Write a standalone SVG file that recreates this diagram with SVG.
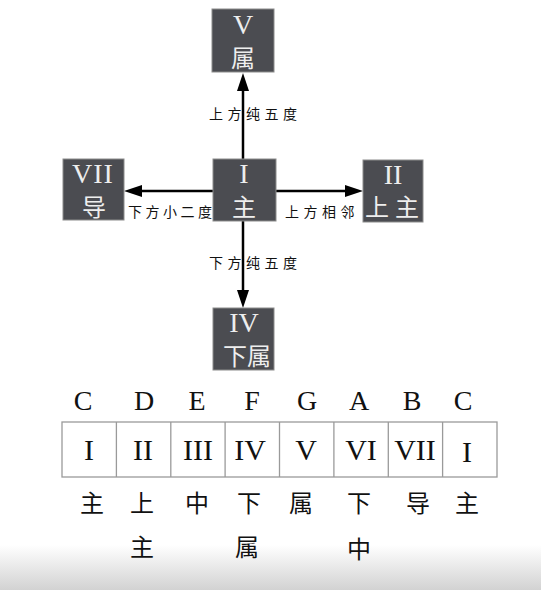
<svg xmlns="http://www.w3.org/2000/svg" width="541" height="590" viewBox="0 0 541 590">
<defs>
<linearGradient id="bg" x1="0" y1="0" x2="0" y2="1">
<stop offset="0" stop-color="#ffffff"/>
<stop offset="1" stop-color="#d2d2d2"/>
</linearGradient>
<marker id="ah" viewBox="0 0 18 12" refX="8" refY="6" markerWidth="18" markerHeight="12" markerUnits="userSpaceOnUse" orient="auto">
<path d="M0,0 L18,6 L0,12 Z" fill="#000"/>
</marker>
<style>
.box{fill:#4b4c51;stroke:#8c8c8c;stroke-width:1}
.rn{font-family:"Liberation Serif",serif;font-size:28px;fill:#eeeeee;text-anchor:middle}
.cj{font-family:"Noto Sans CJK SC",sans-serif;font-size:24px;fill:#eeeeee;text-anchor:middle}
.lbl{font-family:"Noto Sans CJK SC",sans-serif;font-size:14px;fill:#111}
.edge{stroke:#000;stroke-width:2.5;fill:none;marker-end:url(#ah)}
.note{font-family:"Liberation Serif",serif;font-size:28px;fill:#111;text-anchor:middle}
.num{font-family:"Liberation Serif",serif;font-size:30px;fill:#111;text-anchor:middle}
.deg{font-family:"Noto Sans CJK SC",sans-serif;font-size:24px;fill:#111;text-anchor:middle}
.cell{fill:#fff;stroke:#9a9a9a;stroke-width:1.3}
</style>
</defs>
<rect x="0" y="0" width="541" height="590" fill="#fff"/>
<rect x="0" y="545" width="541" height="45" fill="url(#bg)"/>

<g id="connectors">
<line class="edge" x1="243" y1="159" x2="243" y2="83"/>
<line class="edge" x1="243" y1="221" x2="243" y2="298"/>
<line class="edge" x1="213" y1="191" x2="134" y2="191"/>
<line class="edge" x1="276" y1="191" x2="353" y2="191"/>
<text class="lbl" x="209" y="119" letter-spacing="4.5">上方纯五度</text>
<text class="lbl" x="128" y="217" letter-spacing="3.5">下方小二度</text>
<text class="lbl" x="285" y="217" letter-spacing="4.5">上方相邻</text>
<text class="lbl" x="209" y="268" letter-spacing="4.5">下方纯五度</text>
</g>

<g id="node-V">
<rect class="box" x="212" y="9" width="62" height="63"/>
<text class="rn" x="243" y="34">V</text>
<text class="cj" x="243" y="67">属</text>
</g>
<g id="node-I">
<rect class="box" x="213" y="159" width="63" height="62"/>
<text class="rn" x="244" y="183">I</text>
<text class="cj" x="244" y="216">主</text>
</g>
<g id="node-VII">
<rect class="box" x="63" y="159" width="61" height="61"/>
<text class="rn" x="93" y="183" letter-spacing="1">VII</text>
<text class="cj" x="94" y="216">导</text>
</g>
<g id="node-II">
<rect class="box" x="363" y="160" width="60" height="62"/>
<text class="rn" x="393" y="184">II</text>
<text class="cj" x="365" y="216" style="text-anchor:start" letter-spacing="6">上主</text>
</g>
<g id="node-IV">
<rect class="box" x="213" y="308" width="61" height="62"/>
<text class="rn" x="244" y="332">IV</text>
<text class="cj" x="247" y="365">下属</text>
</g>

<g id="scale-table">
<rect class="cell" x="62" y="422" width="435" height="55"/>
<line class="cell" x1="116.4" y1="422" x2="116.4" y2="477"/>
<line class="cell" x1="170.8" y1="422" x2="170.8" y2="477"/>
<line class="cell" x1="225.1" y1="422" x2="225.1" y2="477"/>
<line class="cell" x1="279.5" y1="422" x2="279.5" y2="477"/>
<line class="cell" x1="333.9" y1="422" x2="333.9" y2="477"/>
<line class="cell" x1="388.3" y1="422" x2="388.3" y2="477"/>
<line class="cell" x1="442.6" y1="422" x2="442.6" y2="477"/>

<text class="note" x="83" y="410">C</text>
<text class="note" x="144" y="410">D</text>
<text class="note" x="197" y="410">E</text>
<text class="note" x="252" y="410">F</text>
<text class="note" x="307" y="410">G</text>
<text class="note" x="359" y="410">A</text>
<text class="note" x="412" y="410">B</text>
<text class="note" x="463" y="410">C</text>

<text class="num" x="89" y="460">I</text>
<text class="num" x="143" y="460">II</text>
<text class="num" x="198" y="460">III</text>
<text class="num" x="250" y="460">IV</text>
<text class="num" x="306" y="460">V</text>
<text class="num" x="361" y="460">VI</text>
<text class="num" x="415" y="460">VII</text>
<text class="num" x="467" y="462">I</text>

<text class="deg" x="92" y="512">主</text>
<text class="deg" x="142" y="512">上</text>
<text class="deg" x="197" y="512">中</text>
<text class="deg" x="249" y="512">下</text>
<text class="deg" x="301" y="512">属</text>
<text class="deg" x="359" y="512">下</text>
<text class="deg" x="418" y="512">导</text>
<text class="deg" x="467" y="512">主</text>
<text class="deg" x="142" y="556">主</text>
<text class="deg" x="247" y="556">属</text>
<text class="deg" x="359" y="558">中</text>
</g>
</svg>
